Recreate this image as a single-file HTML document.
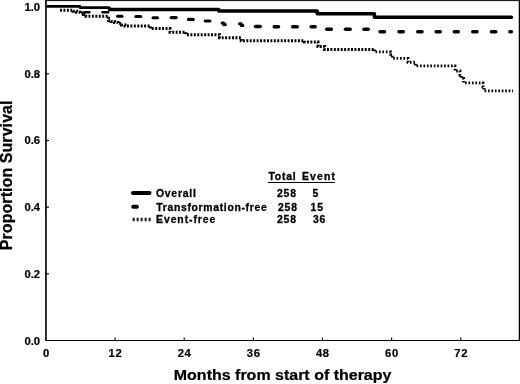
<!DOCTYPE html>
<html><head><meta charset="utf-8"><title>Survival</title>
<style>
html,body{margin:0;padding:0;background:#fff;}
svg{display:block;}
text{font-family:"Liberation Sans", Arial, Helvetica, sans-serif;font-weight:bold;fill:#000;}
.tk{font-size:11.25px;stroke:#000;stroke-width:0.2px;}
.lg{font-size:10.4px;letter-spacing:0.8px;stroke:#000;stroke-width:0.3px;}
.ax{font-size:16px;stroke:#000;stroke-width:0.25px;}
</style></head>
<body>
<svg width="520" height="384" viewBox="0 0 520 384">
<rect width="520" height="384" fill="#fff"/>
<line x1="45.95" y1="0" x2="45.95" y2="341.1" stroke="#000" stroke-width="1.65"/>
<line x1="519.4" y1="0" x2="519.4" y2="341.1" stroke="#000" stroke-width="1.3"/>
<line x1="45.95" y1="0.6" x2="519.6" y2="0.6" stroke="#000" stroke-width="1"/>
<line x1="45.95" y1="340.5" x2="519.6" y2="340.5" stroke="#000" stroke-width="1.2"/>
<text x="46.10" y="356.8" text-anchor="middle" class="tk" style="letter-spacing:0px">0</text>
<line x1="115.05000000000001" y1="340.5" x2="115.05000000000001" y2="337.5" stroke="#000" stroke-width="1.1"/>
<text x="115.40" y="356.8" text-anchor="middle" class="tk" style="letter-spacing:0.65px">12</text>
<line x1="184.20000000000002" y1="340.5" x2="184.20000000000002" y2="337.5" stroke="#000" stroke-width="1.1"/>
<text x="184.55" y="356.8" text-anchor="middle" class="tk" style="letter-spacing:0.65px">24</text>
<line x1="253.35000000000002" y1="340.5" x2="253.35000000000002" y2="337.5" stroke="#000" stroke-width="1.1"/>
<text x="253.70" y="356.8" text-anchor="middle" class="tk" style="letter-spacing:0.65px">36</text>
<line x1="322.5" y1="340.5" x2="322.5" y2="337.5" stroke="#000" stroke-width="1.1"/>
<text x="322.85" y="356.8" text-anchor="middle" class="tk" style="letter-spacing:0.65px">48</text>
<line x1="391.65" y1="340.5" x2="391.65" y2="337.5" stroke="#000" stroke-width="1.1"/>
<text x="392.00" y="356.8" text-anchor="middle" class="tk" style="letter-spacing:0.65px">60</text>
<line x1="460.8" y1="340.5" x2="460.8" y2="337.5" stroke="#000" stroke-width="1.1"/>
<text x="461.15" y="356.8" text-anchor="middle" class="tk" style="letter-spacing:0.65px">72</text>
<text x="40.1" y="344.65" text-anchor="end" class="tk">0.0</text>
<line x1="45.95" y1="273.83" x2="48.95" y2="273.83" stroke="#000" stroke-width="1.2"/>
<text x="40.1" y="277.87" text-anchor="end" class="tk">0.2</text>
<line x1="45.95" y1="207.16" x2="48.95" y2="207.16" stroke="#000" stroke-width="1.2"/>
<text x="40.1" y="211.09" text-anchor="end" class="tk">0.4</text>
<line x1="45.95" y1="140.48999999999995" x2="48.95" y2="140.48999999999995" stroke="#000" stroke-width="1.2"/>
<text x="40.1" y="144.31" text-anchor="end" class="tk">0.6</text>
<line x1="45.95" y1="73.82" x2="48.95" y2="73.82" stroke="#000" stroke-width="1.2"/>
<text x="40.1" y="77.53" text-anchor="end" class="tk">0.8</text>
<text x="40.1" y="10.75" text-anchor="end" class="tk">1.0</text>
<path d="M60 10.3 H73 V11.2 H76.5 V12.25 H80 V13.1 H83.5 V14.4 H86 V16.25 H108.5 V20.6 H111 V21.5 H114.5 V22.5 H118 V23.4 H121.5 V25 H125 V25.9 H150.5 V28.6 H170 V32.2 H186 V34.7 H219.5 V37.8 H241.25 V40.7 H304.5 V42 H318 V46.4 H324.5 V49.5 H373.7" fill="none" stroke="#000" stroke-width="3.0" stroke-dasharray="1.95 1.49"/>
<path d="M374.5 49.5 L374.5 51.9 H390.5 V54.4 H392.3 V58.4 H408 V62.25 H415.3 V65.9 H455 V71 H460 V75.3 H461.5 V78.5 H463.5 V82.8 H483 V87 H484 V90.8 H513" fill="none" stroke="#000" stroke-width="2.8" stroke-dasharray="1.65 1.79"/>
<line x1="84.30" y1="12.25" x2="89.30" y2="12.25" stroke="#000" stroke-width="2.6" stroke-linecap="round"/>
<line x1="102.55" y1="12.25" x2="108.10" y2="12.25" stroke="#000" stroke-width="2.6" stroke-linecap="round"/>
<line x1="117.55" y1="16.25" x2="121.95" y2="16.25" stroke="#000" stroke-width="3.1" stroke-linecap="round"/>
<line x1="135.95" y1="16.5" x2="140.70" y2="16.5" stroke="#000" stroke-width="3.1" stroke-linecap="round"/>
<line x1="153.05" y1="17.7" x2="157.45" y2="17.7" stroke="#000" stroke-width="3.1" stroke-linecap="round"/>
<line x1="171.15" y1="17.6" x2="176.20" y2="17.6" stroke="#000" stroke-width="3.1" stroke-linecap="round"/>
<line x1="188.45" y1="19.4" x2="193.20" y2="19.4" stroke="#000" stroke-width="3.1" stroke-linecap="round"/>
<line x1="205.30" y1="21" x2="209.95" y2="21" stroke="#000" stroke-width="3.1" stroke-linecap="round"/>
<path d="M222.15 23.1 H223.75 V24.6 H225.35" fill="none" stroke="#000" stroke-width="3.1" stroke-linecap="round" stroke-linejoin="round"/>
<path d="M239.55 23.75 H241.2 V25.5 H242.85" fill="none" stroke="#000" stroke-width="3.1" stroke-linecap="round" stroke-linejoin="round"/>
<line x1="255.50" y1="26.6" x2="260.15" y2="26.6" stroke="#000" stroke-width="3.5" stroke-linecap="round"/>
<line x1="274.25" y1="26.7" x2="278.50" y2="26.7" stroke="#000" stroke-width="3.5" stroke-linecap="round"/>
<line x1="292.75" y1="26.7" x2="297.25" y2="26.7" stroke="#000" stroke-width="3.5" stroke-linecap="round"/>
<line x1="311.15" y1="26.7" x2="315.15" y2="26.7" stroke="#000" stroke-width="3.5" stroke-linecap="round"/>
<line x1="326.75" y1="29.2" x2="331.25" y2="29.2" stroke="#000" stroke-width="3.5" stroke-linecap="round"/>
<line x1="345.50" y1="29.25" x2="350.15" y2="29.25" stroke="#000" stroke-width="3.5" stroke-linecap="round"/>
<line x1="364.00" y1="29.25" x2="368.25" y2="29.25" stroke="#000" stroke-width="3.5" stroke-linecap="round"/>
<line x1="380.05" y1="31.75" x2="384.50" y2="31.75" stroke="#000" stroke-width="3.5" stroke-linecap="round"/>
<line x1="399.00" y1="31.75" x2="403.25" y2="31.75" stroke="#000" stroke-width="3.5" stroke-linecap="round"/>
<line x1="417.75" y1="31.75" x2="422.00" y2="31.75" stroke="#000" stroke-width="3.5" stroke-linecap="round"/>
<line x1="436.15" y1="31.75" x2="440.25" y2="31.75" stroke="#000" stroke-width="3.5" stroke-linecap="round"/>
<line x1="454.25" y1="31.75" x2="458.25" y2="31.75" stroke="#000" stroke-width="3.5" stroke-linecap="round"/>
<line x1="472.75" y1="31.75" x2="477.00" y2="31.75" stroke="#000" stroke-width="3.5" stroke-linecap="round"/>
<line x1="491.50" y1="31.75" x2="495.75" y2="31.75" stroke="#000" stroke-width="3.5" stroke-linecap="round"/>
<line x1="509.85" y1="31.75" x2="511.35" y2="31.75" stroke="#000" stroke-width="3.5" stroke-linecap="round"/>
<path d="M46.5 6.45 H80 V7.6 H109.4" fill="none" stroke="#000" stroke-width="2.8" stroke-linecap="butt" stroke-linejoin="round"/>
<path d="M109.4 8.2 V9.5 H218.75 V11.1 H317.2 V13.85 H374.4 V17.3 H511.4" fill="none" stroke="#000" stroke-width="3.5" stroke-linecap="round" stroke-linejoin="round"/>
<text x="268.4" y="180.4" class="lg">Total</text>
<text x="301.9" y="180.4" class="lg" style="letter-spacing:1.2px">Event</text>
<line x1="268" y1="182.5" x2="334.9" y2="182.5" stroke="#000" stroke-width="1.2"/>
<text x="155.9" y="197" class="lg" style="letter-spacing:0.8px">Overall</text>
<text x="277" y="197" class="lg">258</text>
<text x="312.6" y="197" class="lg">5</text>
<text x="156.3" y="211.1" class="lg" style="letter-spacing:0.68px">Transformation-free</text>
<text x="278" y="211.1" class="lg">258</text>
<text x="310.6" y="211.1" class="lg">15</text>
<text x="156.1" y="223.4" class="lg" style="letter-spacing:0.93px">Event-free</text>
<text x="277" y="223.4" class="lg">258</text>
<text x="313" y="223.4" class="lg">36</text>
<line x1="133" y1="193.1" x2="149.5" y2="193.1" stroke="#000" stroke-width="4" stroke-linecap="round"/>
<line x1="133.2" y1="206.75" x2="137" y2="206.75" stroke="#000" stroke-width="3.9" stroke-linecap="round"/>
<line x1="132.6" y1="219.5" x2="151" y2="219.5" stroke="#222" stroke-width="3.3" stroke-dasharray="2.1 1.9" stroke-dashoffset="0"/>
<text transform="translate(282.6 380.3) scale(1 0.96)" text-anchor="middle" class="ax">Months from start of therapy</text>
<text transform="translate(11.9 175.3) rotate(-90)" text-anchor="middle" class="ax" style="letter-spacing:0.07px">Proportion Survival</text>
</svg>
</body></html>
